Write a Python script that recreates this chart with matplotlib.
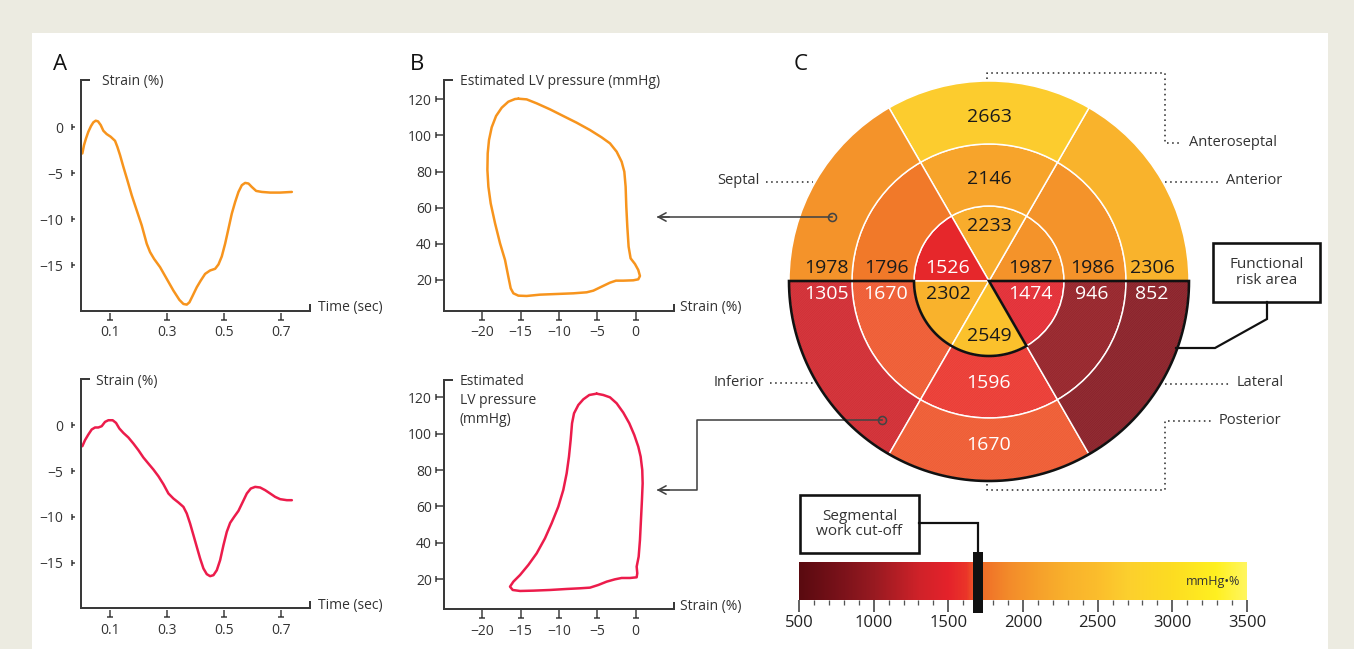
import numpy as np
import matplotlib
matplotlib.use("Agg")
import matplotlib.pyplot as plt
from matplotlib.patches import Wedge, Rectangle, PathPatch
from matplotlib.path import Path
from matplotlib.markers import MarkerStyle
from matplotlib.colors import LinearSegmentedColormap, Normalize
from matplotlib.ticker import MultipleLocator

plt.rcParams['font.family'] = ['Open Sans', 'DejaVu Sans']
plt.rcParams['hatch.linewidth'] = 1.0

W, H, DPI = 1354, 649, 100
PX = 72.0 / DPI          # points per pixel
TXT = '#333333'
AXC = '#3a3a3a'

# ---------------- data ----------------
time_septal = [0.0047, 0.0105, 0.0175, 0.0256, 0.035, 0.0431, 0.0513, 0.0594, 0.0688, 0.0781,
               0.0897, 0.1037, 0.1189, 0.127, 0.1364, 0.148, 0.162, 0.1772, 0.1946, 0.2121,
               0.2296, 0.2413, 0.2552, 0.2762, 0.2995, 0.3228, 0.3438, 0.3578, 0.3695, 0.3788,
               0.3904, 0.4044, 0.4184, 0.4336, 0.451, 0.4685, 0.4802, 0.4918, 0.5035, 0.5152,
               0.5268, 0.5385, 0.5501, 0.5618, 0.5734, 0.5851, 0.5967, 0.6119, 0.6317, 0.6608,
               0.6958, 0.7366]
strain_septal = [-2.86, -1.96, -1.23, -0.51, 0.11, 0.51, 0.69, 0.62, 0.22, -0.40,
                 -0.76, -1.05, -1.49, -2.14, -3.04, -4.31, -5.76, -7.39, -9.02, -10.65,
                 -12.64, -13.55, -14.28, -15.18, -16.45, -17.72, -18.73, -19.17, -19.24, -18.99,
                 -18.26, -17.36, -16.63, -15.91, -15.54, -15.36, -14.89, -14.02, -12.64, -11.01,
                 -9.38, -8.12, -7.03, -6.30, -6.05, -6.12, -6.49, -6.92, -7.03, -7.10,
                 -7.10, -7.03]

time_inferior = [0.0047, 0.014, 0.0256, 0.0373, 0.049, 0.0606, 0.0723, 0.0839, 0.0956, 0.1107,
                 0.1224, 0.134, 0.148, 0.1655, 0.183, 0.2005, 0.2179, 0.2354, 0.2529, 0.2704,
                 0.2879, 0.3054, 0.3228, 0.3403, 0.3578, 0.3695, 0.3811, 0.3928, 0.4044, 0.4161,
                 0.4277, 0.4394, 0.451, 0.4627, 0.4744, 0.486, 0.4977, 0.5093, 0.521, 0.535,
                 0.5501, 0.5653, 0.5793, 0.5932, 0.6084, 0.6259, 0.6434, 0.6608, 0.6783, 0.6958,
                 0.7191, 0.7366]
strain_inferior = [-2.29, -1.63, -1.02, -0.47, -0.25, -0.25, -0.11, 0.36, 0.54, 0.54,
                   0.25, -0.36, -0.84, -1.34, -2.00, -2.72, -3.52, -4.18, -4.83, -5.56,
                   -6.43, -7.44, -7.99, -8.42, -8.90, -9.62, -10.71, -11.98, -13.25, -14.52,
                   -15.61, -16.23, -16.45, -16.34, -15.80, -14.71, -13.07, -11.62, -10.64, -9.99,
                   -9.33, -8.35, -7.44, -6.90, -6.72, -6.79, -7.08, -7.44, -7.81, -8.06,
                   -8.17, -8.17]

loop_septal_strain = [-15.30, -14.22, -12.91, -11.17, -9.44, -7.70, -5.96, -4.44, -3.35, -2.48,
                      -1.83, -1.48, -1.31, -1.22, -1.09, -0.92, -0.66, -0.09, 0.34, 0.56,
                      0.34, -0.31, -1.61, -2.57, -3.35, -4.44, -5.52, -6.39, -8.13, -10.30,
                      -12.48, -14.22, -15.30, -15.95, -16.30, -16.61, -17.04, -17.69, -18.34, -18.91,
                      -19.21, -19.34, -19.30, -19.13, -18.78, -18.21, -17.47, -16.61, -15.74, -15.30]
loop_septal_pressure = [120.35, 119.98, 117.77, 114.45, 110.76, 107.07, 103.01, 98.95, 95.63, 91.02,
                        85.48, 79.95, 71.65, 60.58, 49.51, 38.45, 31.99, 28.85, 25.53, 22.21,
                        20.37, 19.82, 19.63, 19.63, 18.52, 16.31, 14.10, 13.18, 12.62, 12.25,
                        11.88, 11.15, 11.33, 12.62, 15.39, 21.84, 31.07, 40.29, 51.36, 62.43,
                        71.65, 80.87, 90.10, 97.48, 104.49, 110.76, 115.37, 118.69, 120.17, 120.35]

loop_inferior_strain = [-5.09, -4.22, -3.35, -2.48, -1.61, -0.83, -0.18, 0.34, 0.65, 0.86,
                        0.91, 0.82, 0.69, 0.56, 0.39, 0.13, 0.21, 0.13, -0.74, -1.83,
                        -2.70, -3.78, -4.87, -5.96, -7.26, -9.00, -11.17, -13.35, -15.08, -16.04,
                        -16.39, -15.95, -15.08, -14.00, -12.91, -11.83, -10.96, -10.09, -9.44, -9.00,
                        -8.70, -8.48, -8.30, -8.04, -7.48, -6.83, -6.05, -5.09]
loop_inferior_pressure = [121.99, 121.26, 119.98, 116.69, 111.55, 105.70, 99.29, 92.87, 87.38, 80.05,
                          72.73, 63.57, 52.58, 41.59, 32.43, 26.94, 23.28, 21.08, 20.71, 20.71,
                          19.98, 18.70, 16.87, 15.40, 15.04, 14.67, 14.12, 13.75, 13.57, 14.12,
                          15.95, 18.70, 22.36, 27.86, 34.27, 42.51, 50.75, 59.91, 69.07, 78.23,
                          87.38, 96.54, 105.70, 111.19, 115.77, 118.88, 121.26, 121.99]

time_ticks = [0.1, 0.3, 0.5, 0.7]
strain_ticks = [0, -5, -10, -15]
loop_strain_ticks = [-20, -15, -10, -5, 0]
pressure_ticks = [20, 40, 60, 80, 100, 120]

# Bullseye: six 60-degree sectors, counter-clockwise from 3 o'clock
sector_start_deg = [0, 60, 120, 180, 240, 300]
apical_work = [1987, 2233, 1526, 2302, 2549, 1474]
mid_work = [1986, 2146, 1796, 1670, 1596, 946]
basal_work = [2306, 2663, 1978, 1305, 1670, 852]
work_cutoff = 1700
cbar_ticks = [500, 1000, 1500, 2000, 2500, 3000, 3500]
cbar_min, cbar_max = 500, 3500

cmap_values = [500, 800, 1000, 1300, 1500, 1620, 1700, 1900, 2100, 2300, 2500, 2700, 3000, 3300, 3500]
cmap_colors = ['#5a0a10', '#7d131b', '#981a21', '#cf2229', '#e5232b', '#eb3529', '#f06a28',
               '#f38a2a', '#f6a02b', '#f9b22c', '#fbbd2c', '#fccf2e', '#fddc22', '#fff020', '#fff65e']

# ---------------- helpers ----------------
norm = Normalize(cbar_min, cbar_max)
cmap = LinearSegmentedColormap.from_list(
    'work', [((v - cbar_min) / (cbar_max - cbar_min), c) for v, c in zip(cmap_values, cmap_colors)])

fig = plt.figure(figsize=(W / DPI, H / DPI), dpi=DPI, facecolor='#ecebe1')
bg = fig.add_axes([0, 0, 1, 1])
bg.set_xlim(0, W)
bg.set_ylim(H, 0)
bg.axis('off')
bg.add_patch(Rectangle((32, 33), 1328 - 32, H - 33 + 5, fc='white', ec='none', zorder=0))


def px_axes(x0, y0, x1, y1):
    return fig.add_axes([x0 / W, (H - y1) / H, (x1 - x0) / W, (y1 - y0) / H])


def path_marker(segs):
    verts, codes = [], []
    for a, b in segs:
        verts += [a, b]
        codes += [Path.MOVETO, Path.LINETO]
    verts = np.array(verts, float)
    r = np.abs(verts).max()
    return MarkerStyle(Path(verts, codes)), 2 * r * PX


def style_axes(ax, xlim, ylim, xticks, yticks, yfar, ynear, ypad, xnear):
    ax.set_xlim(xlim)
    ax.set_ylim(ylim)
    ax.set_facecolor('none')
    for s in ['top', 'right']:
        ax.spines[s].set_visible(False)
    for s in ['left', 'bottom']:
        ax.spines[s].set_linewidth(2 * PX)
        ax.spines[s].set_color(AXC)
        ax.spines[s].set_capstyle('projecting')
    ax.set_xticks(xticks)
    ax.set_yticks(yticks)
    ax.tick_params(length=0, labelsize=10, labelcolor=TXT)
    ax.tick_params(axis='x', pad=10.5)
    ax.tick_params(axis='y', pad=ypad)
    kw = dict(ls='none', mec=AXC, mfc='none', mew=1.5 * PX, clip_on=False, zorder=3)
    m, ms = path_marker([((-yfar, -3), (-yfar, 3)), ((-yfar, 0), (-ynear, 0))])
    ax.plot([xlim[0]] * len(yticks), yticks, marker=m, ms=ms, **kw)
    m, ms = path_marker([((0, -xnear), (0, -9)), ((-3, -9), (3, -9))])
    ax.plot(xticks, [ylim[0]] * len(xticks), marker=m, ms=ms, **kw)
    kw['mew'] = 2 * PX
    m, ms = path_marker([((0, 0), (9, 0))])
    ax.plot([xlim[0]], [ylim[1]], marker=m, ms=ms, **kw)
    m, ms = path_marker([((0, 0), (0, 7))])
    ax.plot([xlim[1]], [ylim[0]], marker=m, ms=ms, **kw)


ORANGE = '#f7941d'
RED = '#ec1c4b'
LW = 2.5 * PX
curve_kw = dict(lw=LW, solid_joinstyle='round', solid_capstyle='round')

# ---------------- Panel A ----------------
axA1 = px_axes(81, 80, 310, 310.7)
style_axes(axA1, (0, 0.8), (-19.9, 5.1), time_ticks, strain_ticks, 9.3, 6, 13, 2)
axA1.plot(time_septal, strain_septal, color=ORANGE, **curve_kw)

axA2 = px_axes(81, 379.3, 310, 608.3)
style_axes(axA2, (0, 0.8), (-19.95, 5.0), time_ticks, strain_ticks, 9.3, 6, 13, 2)
axA2.plot(time_inferior, strain_inferior, color=RED, **curve_kw)

# ---------------- Panel B ----------------
axB1 = px_axes(444, 80, 674, 310.7)
style_axes(axB1, (-25, 5), (3.0, 130.7), loop_strain_ticks, pressure_ticks, 8.3, 0.7, 8.6, 1)
axB1.plot(loop_septal_strain, loop_septal_pressure, color=ORANGE, **curve_kw)

axB2 = px_axes(444, 380, 674, 609.3)
style_axes(axB2, (-25, 5), (3.5, 129.5), loop_strain_ticks, pressure_ticks, 8.3, 0.7, 8.6, 1)
axB2.plot(loop_inferior_strain, loop_inferior_pressure, color=RED, **curve_kw)

# ---------------- axis titles & panel letters ----------------
tk = dict(color=TXT, fontsize=10, va='baseline')
for x, y, s in [(60, 70, 'A'), (417, 70, 'B'), (801, 70, 'C')]:
    bg.text(x, y, s, fontsize=16, color='#111111', ha='center', va='baseline')
bg.text(102, 85, 'Strain (%)', ha='left', **tk)
bg.text(96, 385, 'Strain (%)', ha='left', **tk)
bg.text(318, 311, 'Time (sec)', ha='left', **tk)
bg.text(318, 609, 'Time (sec)', ha='left', **tk)
bg.text(460, 85, 'Estimated LV pressure (mmHg)', ha='left', **tk)
for i, line in enumerate(['Estimated', 'LV pressure', '(mmHg)']):
    bg.text(460, 385 + 19 * i, line, ha='left', **tk)
bg.text(680, 311, 'Strain (%)', ha='left', **tk)
bg.text(680, 610, 'Strain (%)', ha='left', **tk)

# ---------------- Panel C: bullseye ----------------
cx, cy = 989, 281
radii = [0, 75, 137, 200]
rings = [apical_work, mid_work, basal_work]
lab_h = [41, 103, 163]
lab_v = [55, 102, 164]
for i, vals in enumerate(rings):
    r_in, r_out = radii[i], radii[i + 1]
    for a0, v in zip(sector_start_deg, vals):
        bg.add_patch(Wedge((cx, cy), r_out, -(a0 + 60), -a0, width=r_out - r_in,
                           fc=cmap(norm(v)), ec='white', lw=1.5 * PX, zorder=2))
        mid = a0 + 30
        if mid in (90, 270):
            tx, ty = cx, cy - lab_v[i] * np.sign(np.sin(np.radians(mid)))
        else:
            tx = cx + lab_h[i] * np.sign(np.cos(np.radians(mid)))
            ty = cy - 13 * np.sign(np.sin(np.radians(mid)))
        bg.text(tx, ty, str(v), ha='center', va='center', fontsize=14,
                color='white' if v < work_cutoff else '#1a1a1a', zorder=6)

# functional risk area outline (lower half, excluding apical sectors above cutoff)
ang_in = np.radians(np.linspace(180, 300, 60))
ang_out = np.radians(np.linspace(360, 180, 120))
verts = [(cx - radii[3], cy), (cx - radii[1], cy)]
verts += list(zip(cx + radii[1] * np.cos(ang_in), cy - radii[1] * np.sin(ang_in)))
verts += [(cx, cy), (cx + radii[3], cy)]
verts += list(zip(cx + radii[3] * np.cos(ang_out), cy - radii[3] * np.sin(ang_out)))
verts.append(verts[0])
risk_path = Path(verts, [Path.MOVETO] + [Path.LINETO] * (len(verts) - 2) + [Path.CLOSEPOLY])
bg.add_patch(PathPatch(risk_path, fc='none', ec=(1, 1, 1, 0.10), lw=0, hatch='/' * 14, zorder=3))
bg.add_patch(PathPatch(risk_path, fc='none', ec='#111111', lw=2.6 * PX, zorder=5, joinstyle='miter'))

# pointers from bullseye to loops
LC = '#444444'
bg.plot([832, 658], [217, 217], color=LC, lw=1.6 * PX, zorder=4)
bg.plot([832], [217], 'o', ms=8 * PX, mfc='none', mec=LC, mew=1.6 * PX, zorder=6)
bg.annotate('', xy=(654, 217), xytext=(672, 217),
            arrowprops=dict(arrowstyle='->,head_length=0.55,head_width=0.3', color=LC, lw=1.6 * PX))
bg.plot([882, 697, 697, 658], [420, 420, 490, 490], color=LC, lw=1.6 * PX, zorder=4)
bg.plot([882], [420], 'o', ms=8 * PX, mfc='none', mec=LC, mew=1.6 * PX, zorder=6)
bg.annotate('', xy=(654, 490), xytext=(672, 490),
            arrowprops=dict(arrowstyle='->,head_length=0.55,head_width=0.3', color=LC, lw=1.6 * PX))

# dotted territory labels
dot = dict(color='#333333', lw=1.6 * PX, ls=(0, (1, 2.2)), zorder=4)
lab = dict(color=TXT, fontsize=10.5, va='center')
bg.plot([766, 813], [182, 182], **dot)
bg.text(760, 181, 'Septal', ha='right', **lab)
bg.plot([770, 813], [383, 383], **dot)
bg.text(764, 382, 'Inferior', ha='right', **lab)
bg.plot([987, 987, 1165, 1165, 1181], [79, 73, 73, 143, 143], **dot)
bg.text(1189, 142, 'Anteroseptal', ha='left', **lab)
bg.plot([1165, 1218], [182, 182], **dot)
bg.text(1226, 181, 'Anterior', ha='left', **lab)
bg.plot([1165, 1229], [384, 384], **dot)
bg.text(1237, 383, 'Lateral', ha='left', **lab)
bg.plot([987, 987, 1165, 1165, 1212], [484, 490, 490, 421, 421], **dot)
bg.text(1219, 420, 'Posterior', ha='left', **lab)

# functional risk area call-out
bg.add_patch(Rectangle((1213, 243), 107, 59, fc='white', ec='#111111', lw=2.6 * PX, zorder=6))
bg.text(1266.5, 272.5, 'Functional\nrisk area', ha='center', va='center', fontsize=11,
        color=TXT, linespacing=1.05, zorder=7)
bg.plot([1267, 1267, 1215, 1176], [302, 319, 348, 348], color='#111111', lw=2.2 * PX, zorder=6,
        solid_joinstyle='miter')

# ---------------- colour bar ----------------
bx0, bx1, by0, by1 = 799, 1247, 562, 600
cax = px_axes(bx0, by0, bx1, by1)
cax.imshow(np.linspace(cbar_min, cbar_max, 900)[None, :], extent=(cbar_min, cbar_max, 0, 1),
           aspect='auto', cmap=cmap, norm=norm, interpolation='bilinear')
cax.set_xlim(cbar_min, cbar_max)
cax.set_ylim(0, 1)
for s in cax.spines.values():
    s.set_visible(False)
cax.set_yticks([])
cax.set_xticks(cbar_ticks)
cax.xaxis.set_minor_locator(MultipleLocator(100))
cax.tick_params(axis='x', which='major', length=12 * PX, width=1.5 * PX, color='#333333',
                labelsize=12, labelcolor='#222222', pad=2.5)
cax.tick_params(axis='x', which='minor', length=5 * PX, width=1.3 * PX, color='#555555')
cax.text(0.984, 0.5, 'mmHg\u2022%', transform=cax.transAxes, ha='right', va='center',
         fontsize=9, color=TXT)
cut_halfwidth = 5 / (bx1 - bx0) * (cbar_max - cbar_min)
cax.add_patch(Rectangle((work_cutoff - cut_halfwidth, -13 / (by1 - by0)), 2 * cut_halfwidth,
                        (by1 - by0 + 23) / (by1 - by0), fc='#111111', ec='none', clip_on=False, zorder=5))

cut_x = bx0 + (work_cutoff - cbar_min) / (cbar_max - cbar_min) * (bx1 - bx0)
bg.add_patch(Rectangle((800, 495), 119, 58, fc='white', ec='#111111', lw=2.6 * PX, zorder=6))
bg.text(859.5, 524, 'Segmental\nwork cut-off', ha='center', va='center', fontsize=11,
        color=TXT, linespacing=1.0, zorder=7)
bg.plot([919, cut_x, cut_x], [523, 523, 552], color='#111111', lw=2.2 * PX, zorder=6,
        solid_joinstyle='miter')

fig.savefig('out.png', dpi=DPI, facecolor=fig.get_facecolor())
